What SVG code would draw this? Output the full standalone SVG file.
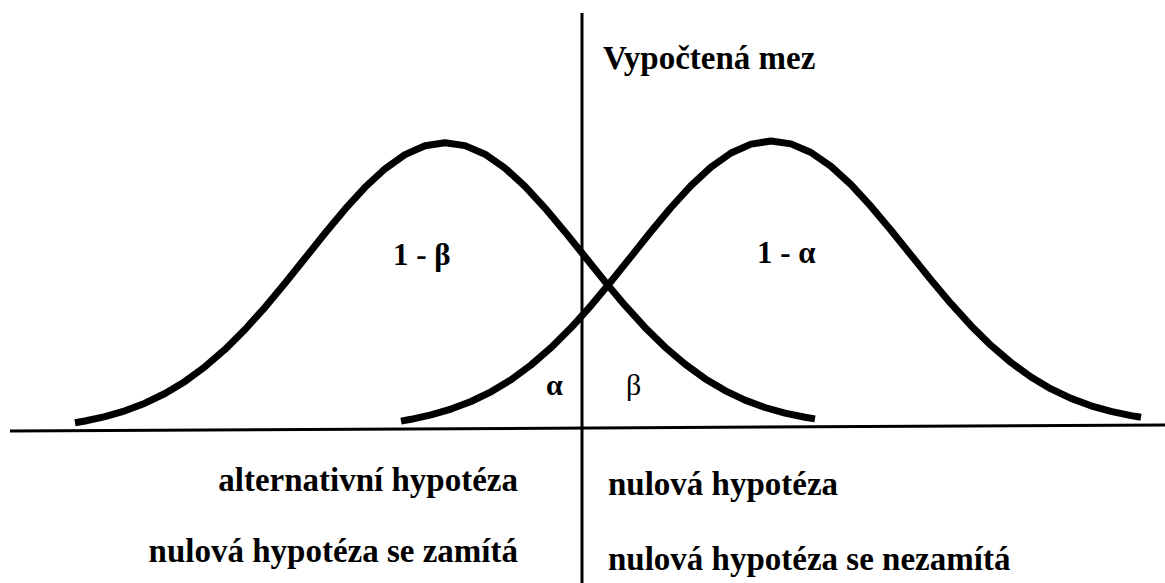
<svg xmlns="http://www.w3.org/2000/svg" width="1165" height="583" viewBox="0 0 1165 583">
<style>
.curve{fill:none;stroke:#000;stroke-width:7;stroke-linejoin:round;stroke-linecap:butt}
.axis{fill:none;stroke:#000;stroke-width:3}
text{font-family:'Liberation Serif','DejaVu Serif',serif;font-weight:bold;fill:#000}
.big{font-size:33px}
.lbl{font-size:31px}
.sm{font-size:30px}
</style>
<rect width="1165" height="583" fill="#fff"/>
<g id="connectors">
<line class="axis" x1="10" y1="431" x2="1165" y2="425"/>
<line class="axis" x1="582" y1="13" x2="582" y2="583" stroke-width="3.5"/>
</g>
<g id="curve-alternative">
<polyline class="curve" points="75,422.8 85,421.0 105,416.6 125,410.8 145,403.2 165,393.5 185,381.4 205,366.7 225,349.4 245,329.5 265,307.3 285,283.3 305,258.3 325,233.2 345,209.2 365,187.3 385,168.8 405,154.6 425,145.8 445,142.7 465,145.6 485,154.2 505,168.1 525,186.4 545,208.1 565,231.9 585,256.8 605,281.6 625,305.4 645,327.4 665,347.1 685,364.2 705,378.7 725,390.6 745,400.1 765,407.5 785,413.1 805,417.3 815,418.9"/>
</g>
<g id="curve-null">
<polyline class="curve" points="401,421.1 411,419.3 431,414.9 451,409.1 471,401.5 491,391.8 511,379.7 531,365.0 551,347.7 571,327.8 591,305.6 611,281.6 631,256.6 651,231.5 671,207.5 691,185.6 711,167.1 731,153.0 751,144.1 771,141.0 791,143.9 811,152.5 831,166.4 851,184.7 871,206.4 891,230.2 911,255.1 931,279.9 951,303.7 971,325.7 991,345.4 1011,362.5 1031,377.0 1051,388.9 1071,398.4 1091,405.8 1111,411.4 1131,415.6 1141,417.2"/>
</g>
<g id="label-limit"><text class="big" x="603" y="69" font-family="Liberation Serif, DejaVu Serif, serif">Vypočtená mez</text></g>
<g id="label-1-beta"><text class="lbl" x="393" y="265" font-family="Liberation Serif, DejaVu Serif, serif">1 - β</text></g>
<g id="label-1-alpha"><text class="lbl" x="757" y="263" font-family="Liberation Serif, DejaVu Serif, serif">1 - α</text></g>
<g id="label-alpha"><text class="sm" x="546" y="395" font-family="Liberation Serif, DejaVu Serif, serif">α</text></g>
<g id="label-beta"><text class="sm" x="626" y="395" font-family="Liberation Serif, DejaVu Serif, serif" style="font-weight:normal">β</text></g>
<g id="label-alt"><text class="big" x="518" y="491" text-anchor="end" font-family="Liberation Serif, DejaVu Serif, serif">alternativní hypotéza</text></g>
<g id="label-null"><text class="big" x="608" y="495" font-family="Liberation Serif, DejaVu Serif, serif">nulová hypotéza</text></g>
<g id="label-reject"><text class="big" x="518" y="562" text-anchor="end" font-family="Liberation Serif, DejaVu Serif, serif">nulová hypotéza se zamítá</text></g>
<g id="label-accept"><text class="big" x="608" y="570" font-family="Liberation Serif, DejaVu Serif, serif">nulová hypotéza se nezamítá</text></g>
</svg>
